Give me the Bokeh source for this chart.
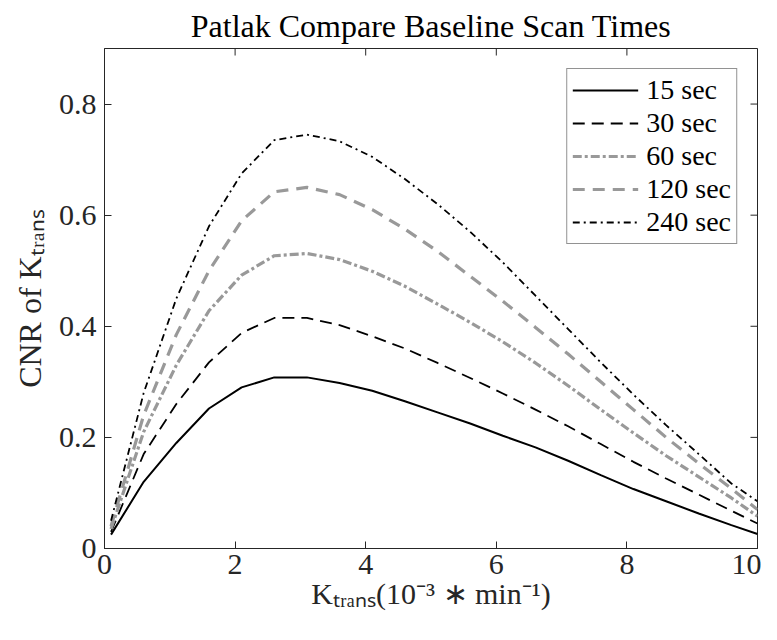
import math
from bokeh.plotting import figure
from bokeh.models import Range1d, FixedTicker, Legend, LegendItem
from bokeh.embed import file_html
from bokeh.resources import INLINE

# ---------------- data ----------------
k_trans = [0.1, 0.6, 1.1, 1.6, 2.1, 2.6, 3.1, 3.6, 4.1, 4.6, 5.1,
           5.6, 6.1, 6.6, 7.1, 7.6, 8.1, 8.6, 9.1, 9.6, 10.0]
cnr_15 = [0.025, 0.120, 0.190, 0.252, 0.290, 0.308, 0.308, 0.298, 0.284, 0.265, 0.245,
          0.225, 0.203, 0.182, 0.158, 0.132, 0.107, 0.085, 0.063, 0.042, 0.026]
cnr_30 = [0.030, 0.170, 0.260, 0.335, 0.388, 0.415, 0.415, 0.402, 0.382, 0.360, 0.334,
          0.307, 0.279, 0.250, 0.220, 0.188, 0.156, 0.126, 0.097, 0.068, 0.045]
cnr_60 = [0.035, 0.210, 0.330, 0.428, 0.492, 0.527, 0.531, 0.520, 0.499, 0.472, 0.440,
          0.407, 0.372, 0.334, 0.293, 0.250, 0.208, 0.167, 0.129, 0.091, 0.058]
cnr_120 = [0.040, 0.240, 0.385, 0.500, 0.590, 0.642, 0.650, 0.637, 0.610, 0.575, 0.535,
           0.490, 0.445, 0.398, 0.350, 0.300, 0.250, 0.200, 0.153, 0.108, 0.070]
cnr_240 = [0.050, 0.280, 0.450, 0.580, 0.675, 0.735, 0.745, 0.733, 0.705, 0.665, 0.620,
           0.570, 0.515, 0.455, 0.395, 0.335, 0.277, 0.222, 0.170, 0.117, 0.085]
series_labels = ["15 sec", "30 sec", "60 sec", "120 sec", "240 sec"]
series_values = [cnr_15, cnr_30, cnr_60, cnr_120, cnr_240]
x_ticks = [0, 2, 4, 6, 8, 10]
y_ticks = [0, 0.2, 0.4, 0.6, 0.8]
y_tick_labels = ["0", "0.2", "0.4", "0.6", "0.8"]
x_limits = (0, 10)
y_limits = (0, 0.9)

title_text = "Patlak Compare Baseline Scan Times"
x_label = "K\u209c\u1d63\u2090\u2099\u209b(10\u207b\u00b3 \u2217 min\u207b\u00b9)"
y_label = "CNR of K\u209c\u1d63\u2090\u2099\u209b"

# ---------------- styles ----------------
styles = [
    dict(color="black", width=2.0, dash="solid"),
    dict(color="black", width=1.8, dash="12 7"),
    dict(color="#999999", width=3.2, dash="9 3 3 3"),
    dict(color="#999999", width=3.2, dash="12 8"),
    dict(color="black", width=1.8, dash="7 4 2 4"),
]

SERIF = "Liberation Serif"
AX = "#262626"
W, H = 761, 624
FL, FR, FT, FB = 104, 4, 48, 76

p = figure(width=W, height=H, x_range=Range1d(*x_limits), y_range=Range1d(*y_limits),
           output_backend="svg", toolbar_location=None,
           min_border_left=FL, min_border_right=FR, min_border_top=FT, min_border_bottom=FB)
p.grid.visible = False
p.outline_line_color = AX
p.outline_line_width = 1
p.background_fill_color = "white"
p.border_fill_color = "white"

p.title.text = title_text
p.title.text_font = SERIF
p.title.text_font_size = "32px"
p.title.text_font_style = "normal"
p.title.text_color = "black"
p.title.align = "center"
p.title.standoff = 9

p.xaxis.ticker = FixedTicker(ticks=x_ticks)
p.yaxis.ticker = FixedTicker(ticks=y_ticks)
p.yaxis.major_label_overrides = {t: s for t, s in zip(y_ticks, y_tick_labels)}
for ax in (p.xaxis[0], p.yaxis[0]):
    ax.major_tick_in = 7
    ax.major_tick_out = 0
    ax.minor_tick_line_color = None
    ax.axis_line_color = AX
    ax.major_tick_line_color = AX
    ax.major_label_text_font = SERIF
    ax.major_label_text_font_size = "30px"
    ax.major_label_text_color = AX
    ax.major_label_standoff = 8
    ax.axis_label_text_font = SERIF
    ax.axis_label_text_font_style = "normal"
    ax.axis_label_text_color = AX
p.xaxis.axis_label = x_label
p.yaxis.axis_label = y_label
p.xaxis.axis_label_text_font_size = "30px"
p.yaxis.axis_label_text_font_size = "32px"
p.xaxis.major_label_standoff = 6
p.xaxis.axis_label_standoff = 0
p.yaxis.axis_label_standoff = 8

# mirrored inward ticks on the top and right edges of the box
p.ray(x=x_ticks, y=[y_limits[1]] * len(x_ticks), length=7, length_units="screen",
      angle=-math.pi / 2, line_color=AX, line_width=1)
p.ray(x=[x_limits[1]] * len(y_ticks), y=y_ticks, length=7, length_units="screen",
      angle=math.pi, line_color=AX, line_width=1)

renderers = []
for vals, st in zip(series_values, styles):
    r = p.line(k_trans, vals, line_color=st["color"], line_width=st["width"],
               line_dash=st["dash"])
    renderers.append(r)

legend = Legend(items=[LegendItem(label=lab, renderers=[r]) for lab, r in zip(series_labels, renderers)],
                location="top_right", margin=20, padding=5, spacing=1,
                glyph_width=66, glyph_height=28, label_height=28, label_standoff=8,
                label_text_font=SERIF, label_text_font_size="28px", label_text_color="black",
                border_line_color=AX, border_line_width=1, background_fill_alpha=1.0)
p.add_layout(legend)

open("out.html", "w").write(file_html(p, INLINE))
